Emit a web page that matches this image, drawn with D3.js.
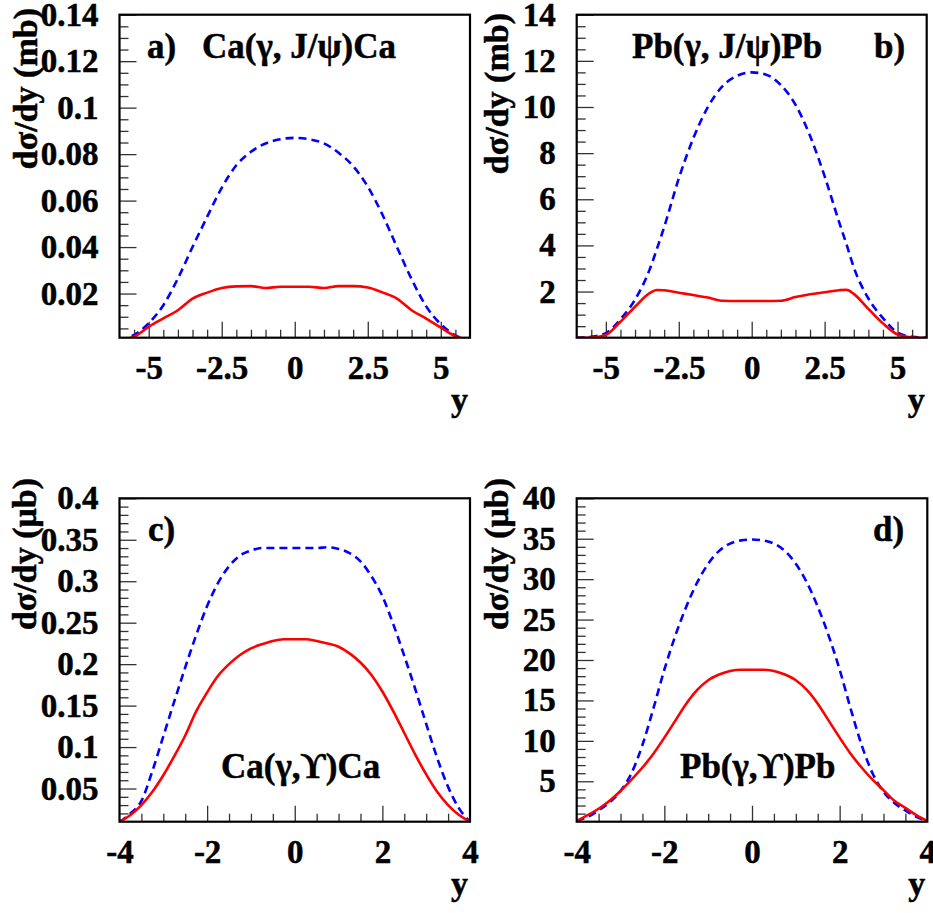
<!DOCTYPE html>
<html><head><meta charset="utf-8">
<script src="https://cdn.jsdelivr.net/npm/d3@7"></script>
<style>
body{margin:0;background:#fff;}
</style></head><body>
<svg id="c" width="933" height="913"></svg>
<script>
// ---------- data ----------
const xA = [-6,-5.5,-5,-4.5,-4,-3.5,-3,-2.5,-2,-1.5,-1,-0.5,0,0.5,1,1.5,2,2.5,3,3.5,4,4.5,5,5.5,6];
const blueA = [0,0.0022,0.0072,0.0150,0.0265,0.0400,0.0530,0.0655,0.0752,0.0810,0.0846,0.0864,0.0870,0.0864,0.0846,0.0806,0.0748,0.0660,0.0540,0.0400,0.0262,0.0145,0.0068,0.0020,0];
const redA  = [0,0.0014,0.0057,0.0093,0.0128,0.0178,0.0204,0.0224,0.0231,0.0232,0.0224,0.0229,0.0229,0.0229,0.0224,0.0232,0.0232,0.0226,0.0205,0.0178,0.0128,0.0092,0.0053,0.0016,0];

const xB = [-6,-5.5,-5,-4.5,-4,-3.5,-3.25,-3,-2.5,-2,-1.5,-1,-0.5,0,0.5,1,1.5,2,2.5,3,3.25,3.5,4,4.5,5,5.5,6];
const blueB = [0,0.04,0.2,0.8,1.65,2.95,3.85,4.8,6.9,8.65,10.0,10.9,11.35,11.5,11.4,10.95,10.1,8.75,7.0,5.0,4.05,3.05,1.7,0.85,0.22,0.04,0];
const redB  = [0,0.01,0.12,0.69,1.34,1.93,2.07,2.06,1.95,1.85,1.74,1.6,1.59,1.59,1.59,1.6,1.76,1.88,1.97,2.06,2.08,1.9,1.25,0.62,0.14,0.01,0];

const xC = [-4,-3.75,-3.5,-3.25,-3,-2.75,-2.5,-2.25,-2,-1.75,-1.5,-1.25,-1,-0.75,-0.5,-0.25,0,0.25,0.5,0.75,1,1.25,1.5,1.75,2,2.25,2.5,2.75,3,3.25,3.5,3.75,4];
const blueC = [0.010,0.020,0.035,0.071,0.113,0.155,0.196,0.235,0.270,0.298,0.318,0.331,0.337,0.340,0.340,0.340,0.340,0.340,0.340,0.341,0.339,0.334,0.324,0.306,0.282,0.248,0.210,0.170,0.128,0.087,0.052,0.026,0.010];
const redC  = [0.010,0.018,0.030,0.046,0.066,0.089,0.114,0.143,0.166,0.186,0.200,0.211,0.219,0.224,0.228,0.230,0.230,0.230,0.228,0.225,0.221,0.213,0.202,0.187,0.167,0.143,0.117,0.091,0.067,0.046,0.030,0.018,0.010];

const xD = xC;
const blueD = [0.1,0.6,1.4,2.4,3.8,6.0,9.5,14.0,18.8,23.0,26.6,29.6,31.9,33.5,34.4,34.8,34.9,34.8,34.4,33.5,31.9,29.6,26.6,23.0,18.8,14.0,9.5,6.0,3.7,2.3,1.4,0.6,0.1];
const redD  = [0.1,0.8,1.6,2.6,3.8,5.2,6.7,8.4,10.4,12.5,14.6,16.3,17.5,18.2,18.65,18.8,18.8,18.8,18.65,18.2,17.5,16.3,14.6,12.5,10.4,8.4,6.7,5.2,3.9,2.6,1.7,0.8,0.1];

const xMajorAB = [-5,-2.5,0,2.5,5];
const xMajorCD = [-4,-2,0,2,4];
const yMajorA = [0.02,0.04,0.06,0.08,0.1,0.12,0.14];
const yMajorB = [2,4,6,8,10,12,14];
const yMajorC = [0.05,0.1,0.15,0.2,0.25,0.3,0.35,0.4];
const yMajorD = [5,10,15,20,25,30,35,40];

const FONT = "'Liberation Serif', 'Times New Roman', Times, serif";

const panels = [
  {id:"a", xs:xA, blue:blueA, red:redA, xdom:[-6,6], ydom:[0.001,0.14], xMaj:xMajorAB, xMinStep:0.5, yMaj:yMajorA, yMinStep:0.005,
   L:119.5, R:470, T:14.7, B:337.7, ytitle:"dσ/dy (mb)", yTitleX:37, yTitleEnd:8,
   labels:[{t:"a)",x:147,y:58},{t:"Ca(γ, J/ψ)Ca",x:202,y:58}]},
  {id:"b", xs:xB, blue:blueB, red:redB, xdom:[-6,6], ydom:[0,14], xMaj:xMajorAB, xMinStep:0.5, yMaj:yMajorB, yMinStep:0.5,
   L:576.7, R:926.7, T:14.7, B:337.7, ytitle:"dσ/dy (mb)", yTitleX:508, yTitleEnd:13,
   labels:[{t:"Pb(γ, J/ψ)Pb",x:632,y:58},{t:"b)",x:874,y:58}]},
  {id:"c", xs:xC, blue:blueC, red:redC, xdom:[-4,4], ydom:[0.01,0.4], xMaj:xMajorCD, xMinStep:0.5, yMaj:yMajorC, yMinStep:0.01,
   L:119.5, R:470, T:498.3, B:821.7, ytitle:"dσ/dy  (μb)", yTitleX:36, yTitleEnd:478,
   labels:[{t:"c)",x:148,y:541},{t:"Ca(γ,ϒ)Ca",x:221,y:778}]},
  {id:"d", xs:xD, blue:blueD, red:redD, xdom:[-4,4], ydom:[0,40], xMaj:xMajorCD, xMinStep:0.5, yMaj:yMajorD, yMinStep:1,
   L:576.7, R:927.3, T:498.3, B:821.7, ytitle:"dσ/dy  (μb)", yTitleX:508, yTitleEnd:478,
   labels:[{t:"d)",x:873,y:541},{t:"Pb(γ,ϒ)Pb",x:680,y:778}]}
];

const svg = d3.select("#c");
const fmt = d => String(+d.toFixed(4));
const styleText = sel => sel.attr("font-family", FONT).attr("font-weight","bold").attr("fill","#000")
  .attr("stroke","#000").attr("stroke-width",0.5);

panels.forEach(p => {
  const x = d3.scaleLinear().domain(p.xdom).range([p.L, p.R]);
  const y = d3.scaleLinear().domain(p.ydom).range([p.B, p.T]);
  const g = svg.append("g");

  const xMinor = d3.range(Math.ceil(p.xdom[0]/p.xMinStep), Math.floor(p.xdom[1]/p.xMinStep)+1)
      .map(i => +(i*p.xMinStep).toFixed(4)).filter(v => !p.xMaj.includes(v) && v > p.xdom[0] && v < p.xdom[1]);
  const yMinor = d3.range(Math.ceil(p.ydom[0]/p.yMinStep), Math.floor(p.ydom[1]/p.yMinStep)+1)
      .map(i => +(i*p.yMinStep).toFixed(4)).filter(v => !p.yMaj.includes(v) && v > p.ydom[0] && v < p.ydom[1]);

  const axMinX = g.append("g").attr("transform",`translate(0,${p.B})`)
    .call(d3.axisBottom(x).tickValues(xMinor).tickSizeInner(-8).tickSizeOuter(0).tickFormat(""));
  const axMajX = g.append("g").attr("transform",`translate(0,${p.B})`)
    .call(d3.axisBottom(x).tickValues(p.xMaj).tickSizeInner(-16).tickSizeOuter(0).tickPadding(18).tickFormat(fmt));
  const axMinY = g.append("g").attr("transform",`translate(${p.L},0)`)
    .call(d3.axisLeft(y).tickValues(yMinor).tickSizeInner(-9).tickSizeOuter(0).tickFormat(""));
  const axMajY = g.append("g").attr("transform",`translate(${p.L},0)`)
    .call(d3.axisLeft(y).tickValues(p.yMaj).tickSizeInner(-17).tickSizeOuter(0).tickPadding(21).tickFormat(fmt));
  [axMinX,axMajX,axMinY,axMajY].forEach(a => {
    a.attr("font-family", FONT).attr("font-size", 33);
    a.select(".domain").remove();
    a.selectAll("line").attr("stroke","#333").attr("stroke-width",1.3);
    styleText(a.selectAll("text").attr("font-size",33));
  });
  axMajX.selectAll(".tick").filter(d => d <= p.xdom[0] || d >= p.xdom[1]).select("line").remove();

  const cid = "clip" + p.id;
  svg.append("clipPath").attr("id",cid).append("rect")
    .attr("x",p.L).attr("y",p.T).attr("width",p.R-p.L).attr("height",p.B-p.T);

  const pts = (ys) => p.xs.map((v,i) => [v, ys[i]]);
  const line = d3.line().x(d => x(d[0])).y(d => y(d[1])).curve(d3.curveMonotoneX);

  g.append("path").attr("clip-path",`url(#${cid})`).attr("d", line(pts(p.blue)))
    .attr("fill","none").attr("stroke","#0000ff").attr("stroke-width",2.6).attr("stroke-dasharray","8,5");
  g.append("path").attr("clip-path",`url(#${cid})`).attr("d", line(pts(p.red)))
    .attr("fill","none").attr("stroke","#ff0000").attr("stroke-width",2.6);

  g.append("rect").attr("x",p.L).attr("y",p.T).attr("width",p.R-p.L).attr("height",p.B-p.T)
    .attr("fill","none").attr("stroke","#000").attr("stroke-width",2.2);

  styleText(g.append("text").attr("x",p.R-2).attr("y",p.B+73).attr("text-anchor","end").attr("font-size",34).text("y"));
  styleText(g.append("text").attr("transform",`translate(${p.yTitleX},${p.yTitleEnd}) rotate(-90)`)
    .attr("text-anchor","end").attr("font-size",34).text(p.ytitle));

  p.labels.forEach(l => styleText(g.append("text").attr("x",l.x).attr("y",l.y).attr("font-size",35).text(l.t)));
});
</script>
</body></html>
